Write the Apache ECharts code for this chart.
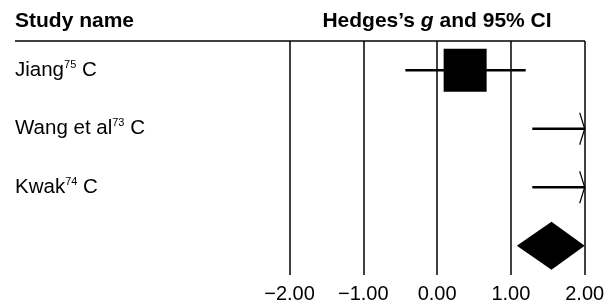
<!DOCTYPE html>
<html>
<head>
<meta charset="utf-8">
<script src="https://cdn.jsdelivr.net/npm/echarts@6/dist/echarts.min.js"></script>
<style>
  html, body { margin: 0; padding: 0; background: #fff; }
  #chart { width: 616px; height: 306px; }
</style>
</head>
<body>
<div id="chart"></div>
<script>
// rows: three studies plus the summary row (empty label)
const STUDY_NAMES = ["Jiang", "Wang et al", "Kwak", ""];
const STUDY_REFS = ["75", "73", "74", ""];
const STUDY_SUFFIX = [" C", " C", " C", ""];

// Hedges's g and 95% CI per study (Wang / Kwak run past the axis)
const EFFECT = [0.38, 2.7, 2.7];
const LOWER = [-0.43, 1.29, 1.29];
const UPPER = [1.2, 4.1, 4.1];

// summary diamond: [effect, lower, upper]
const SUMMARY = [1.55, 1.08, 2.0];

const X_MIN = -2;
const X_MAX = 2;
const FONT = '"Liberation Sans", Arial, sans-serif';

function formatTick(value) {
  const text = Math.abs(value).toFixed(2);
  return value < 0 ? "\u2212" + text : text;
}

function renderStudy(params, api) {
  const row = api.value(0);
  const effect = api.value(1);
  const low = api.value(2);
  const high = api.value(3);
  const y = api.coord([0, row])[1];
  const xLow = api.coord([Math.max(low, X_MIN), row])[0];
  const xHigh = api.coord([Math.min(high, X_MAX), row])[0];
  const children = [
    {
      type: "line",
      shape: { x1: xLow, y1: y, x2: xHigh, y2: y },
      style: { stroke: "#000", lineWidth: 2.6 },
    },
  ];

  if (high > X_MAX) {
    children.push({
      type: "polyline",
      shape: { points: [[xHigh - 5, y - 16], [xHigh, y], [xHigh - 5, y + 16]] },
      style: { stroke: "#000", lineWidth: 1.2, fill: null },
    });
  }

  if (effect >= X_MIN && effect <= X_MAX) {
    const cx = api.coord([effect, row])[0];
    const size = 43;
    children.push({
      type: "rect",
      shape: { x: cx - size / 2, y: y - size / 2, width: size, height: size },
      style: { fill: "#000" },
    });
  }

  return { type: "group", children };
}

function renderSummary(params, api) {
  const row = api.value(0);
  const y = api.coord([0, row])[1];
  const xMid = api.coord([api.value(1), row])[0];
  const xLow = api.coord([api.value(2), row])[0];
  const xHigh = api.coord([api.value(3), row])[0];
  const half = 24;

  return {
    type: "polygon",
    shape: { points: [[xLow, y], [xMid, y - half], [xHigh, y], [xMid, y + half]] },
    style: { fill: "#000" },
  };
}

const chart = echarts.init(document.getElementById("chart"), null, { renderer: "canvas" });

chart.setOption({
  animation: false,
  backgroundColor: "#fff",
  textStyle: { fontFamily: FONT },
  grid: { left: 289.5, right: 31.3, top: 41, bottom: 31 },
  xAxis: {
    type: "value",
    min: X_MIN,
    max: X_MAX,
    interval: 1,
    axisLine: { show: false },
    axisTick: { show: false },
    axisLabel: {
      formatter: formatTick,
      color: "#000",
      fontSize: 20,
      fontFamily: FONT,
      margin: 9,
      showMinLabel: true,
      showMaxLabel: true,
    },
    splitLine: { show: true, lineStyle: { color: "#000", width: 1.5 } },
  },
  yAxis: {
    type: "category",
    inverse: true,
    data: STUDY_NAMES,
    axisLine: { show: false },
    axisTick: { show: false },
    splitLine: { show: false },
    axisLabel: {
      align: "left",
      margin: 274.5,
      interval: 0,
      formatter: (value, index) => {
        if (!STUDY_NAMES[index]) {
          return "";
        }
        return `{n|${STUDY_NAMES[index]}}{s|${STUDY_REFS[index]}}{n|${STUDY_SUFFIX[index]}}`;
      },
      rich: {
        n: { fontSize: 20.5, color: "#000", fontFamily: FONT, lineHeight: 22 },
        s: { fontSize: 11, color: "#000", fontFamily: FONT, lineHeight: 11, verticalAlign: "top" },
      },
    },
  },
  graphic: [
    {
      type: "text",
      left: 15,
      top: 11,
      style: {
        text: "Study name",
        fill: "#000",
        font: `bold 21px ${FONT}`,
      },
    },
    {
      type: "text",
      x: 437,
      y: 11,
      style: {
        text: "{b|Hedges\u2019s }{i|g}{b| and 95% CI}",
        align: "center",
        rich: {
          b: { fontSize: 21, fontWeight: "bold", fontFamily: FONT, color: "#000" },
          i: { fontSize: 21, fontWeight: "bold", fontStyle: "italic", fontFamily: FONT, color: "#000" },
        },
      },
    },
    {
      type: "line",
      shape: { x1: 15, y1: 41, x2: 585, y2: 41 },
      style: { stroke: "#000", lineWidth: 1.5 },
    },
  ],
  series: [
    {
      type: "custom",
      clip: false,
      renderItem: renderStudy,
      encode: { x: [1, 2, 3], y: 0 },
      data: EFFECT.map((effect, i) => [i, effect, LOWER[i], UPPER[i]]),
    },
    {
      type: "custom",
      clip: false,
      renderItem: renderSummary,
      encode: { x: [1, 2, 3], y: 0 },
      data: [[3, SUMMARY[0], SUMMARY[1], SUMMARY[2]]],
    },
  ],
});
</script>
</body>
</html>
